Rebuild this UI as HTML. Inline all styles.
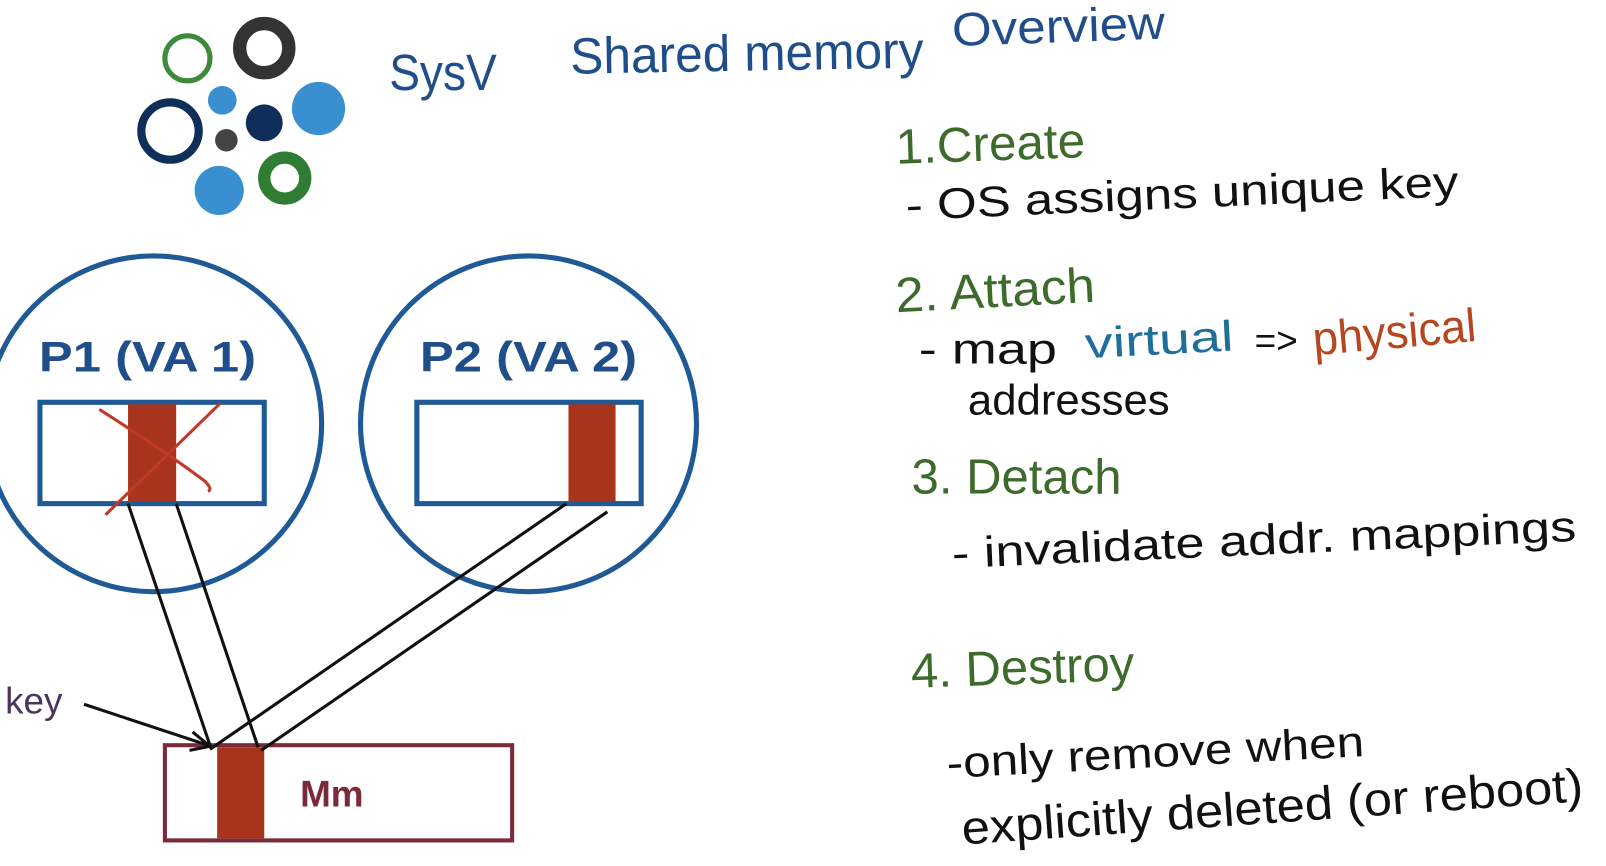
<!DOCTYPE html>
<html><head><style>html,body{margin:0;padding:0;background:#fff;overflow:hidden}</style></head>
<body>
<svg width="1606" height="866" viewBox="0 0 1568 846" preserveAspectRatio="none" xmlns="http://www.w3.org/2000/svg" style="display:block">
<rect width="1568" height="846" fill="#fff"/>
<!-- logo -->
<circle cx="183" cy="57" r="22" fill="none" stroke="#3d8a3a" stroke-width="5"/>
<circle cx="258" cy="47" r="24" fill="none" stroke="#333" stroke-width="13"/>
<circle cx="217" cy="98" r="14" fill="#3a8fd0"/>
<circle cx="311" cy="106" r="26" fill="#3a8fd0"/>
<circle cx="166" cy="128" r="28" fill="none" stroke="#0f2e5a" stroke-width="8"/>
<circle cx="258" cy="120" r="18" fill="#0f2e5a"/>
<circle cx="221" cy="137" r="11" fill="#444"/>
<circle cx="278" cy="174" r="20" fill="none" stroke="#2e7d32" stroke-width="12"/>
<circle cx="214" cy="186" r="24" fill="#3a8fd0"/>
<!-- title -->
<g font-family="Liberation Sans Narrow, Liberation Sans, sans-serif" fill="#1f4e8a">
<text x="380" y="88" font-size="50" textLength="105" lengthAdjust="spacingAndGlyphs">SysV</text>
<text x="557" y="72" font-size="50" textLength="345" lengthAdjust="spacingAndGlyphs" transform="rotate(-1 557 72)">Shared memory</text>
<text x="930" y="45" font-size="46" textLength="208" lengthAdjust="spacingAndGlyphs" transform="rotate(-2 930 45)">Overview</text>
</g>
<!-- process circles -->
<circle cx="150" cy="414" r="164" fill="none" stroke="#1f5a96" stroke-width="5"/>
<circle cx="516" cy="414" r="164" fill="none" stroke="#1f5a96" stroke-width="5"/>
<g font-family="Liberation Sans, sans-serif" font-weight="bold" fill="#1f4e8a" font-size="42">
<text x="38" y="363" textLength="212" lengthAdjust="spacingAndGlyphs">P1 (VA 1)</text>
<text x="410" y="363" textLength="212" lengthAdjust="spacingAndGlyphs">P2 (VA 2)</text>
</g>
<rect x="39" y="393" width="219" height="99" fill="#fff" stroke="#1f5a96" stroke-width="5"/>
<rect x="125" y="395" width="47" height="95" fill="#a8341c"/>
<rect x="407" y="393" width="219" height="99" fill="#fff" stroke="#1f5a96" stroke-width="5"/>
<rect x="555" y="395" width="46" height="95" fill="#a8341c"/>
<path d="M97 400 Q160 440 200 470 Q208 478 203 480" fill="none" stroke="#c0392b" stroke-width="3"/>
<path d="M215 394 L103 503" fill="none" stroke="#c0392b" stroke-width="3"/>
<!-- Mm -->
<rect x="161" y="728" width="339" height="93" fill="#fff" stroke="#7a2b3a" stroke-width="4"/>
<rect x="212" y="730" width="46" height="89" fill="#a8341c"/>
<text x="293" y="788" font-family="Liberation Sans, sans-serif" font-weight="bold" font-size="36" fill="#7a2b3a">Mm</text>
<!-- lines -->
<g stroke="#111" stroke-width="3" fill="none">
<line x1="125" y1="492" x2="205" y2="728"/>
<line x1="172" y1="492" x2="252" y2="730"/>
<line x1="553" y1="492" x2="205" y2="732"/>
<line x1="593" y1="500" x2="255" y2="733"/>
<line x1="82" y1="688" x2="203" y2="728"/>
<path d="M188 715 L205 729 L185 733" />
</g>
<text x="5" y="697" font-family="Liberation Sans Narrow, Liberation Sans, sans-serif" font-size="36" fill="#4a3560">key</text>
<!-- right text -->
<g font-family="Liberation Sans Narrow, Liberation Sans, sans-serif">
<text x="875" y="160" font-size="48" fill="#3d6b2c" textLength="185" lengthAdjust="spacingAndGlyphs" transform="rotate(-2 875 160)">1.Create</text>
<text x="885" y="215" font-size="42" fill="#111" textLength="540" lengthAdjust="spacingAndGlyphs" transform="rotate(-2.5 885 215)">- OS assigns  unique key</text>
<text x="875" y="305" font-size="48" fill="#3d6b2c" textLength="195" lengthAdjust="spacingAndGlyphs" transform="rotate(-3 875 305)">2. Attach</text>
<text x="897" y="355" font-size="42" fill="#111" textLength="135" lengthAdjust="spacingAndGlyphs">- map</text>
<text x="1060" y="350" font-size="42" fill="#1f6f9a" textLength="145" lengthAdjust="spacingAndGlyphs" transform="rotate(-3 1060 350)">virtual</text>
<text x="1225" y="345" font-size="36" fill="#111">=&gt;</text>
<text x="1283" y="347" font-size="46" fill="#b5461f" textLength="160" lengthAdjust="spacingAndGlyphs" transform="rotate(-5 1283 347)">physical</text>
<text x="945" y="405" font-size="42" fill="#111" textLength="197" lengthAdjust="spacingAndGlyphs">addresses</text>
<text x="890" y="482" font-size="48" fill="#3d6b2c" textLength="205" lengthAdjust="spacingAndGlyphs">3. Detach</text>
<text x="930" y="555" font-size="42" fill="#111" textLength="610" lengthAdjust="spacingAndGlyphs" transform="rotate(-2.5 930 555)">- invalidate  addr.  mappings</text>
<text x="890" y="672" font-size="48" fill="#3d6b2c" textLength="218" lengthAdjust="spacingAndGlyphs" transform="rotate(-2 890 672)">4. Destroy</text>
<text x="925" y="760" font-size="42" fill="#111" textLength="408" lengthAdjust="spacingAndGlyphs" transform="rotate(-3 925 760)">-only remove when</text>
<text x="940" y="825" font-size="46" fill="#111" textLength="608" lengthAdjust="spacingAndGlyphs" transform="rotate(-4 940 825)">explicitly  deleted (or reboot)</text>
</g>
</svg>
</body></html>
